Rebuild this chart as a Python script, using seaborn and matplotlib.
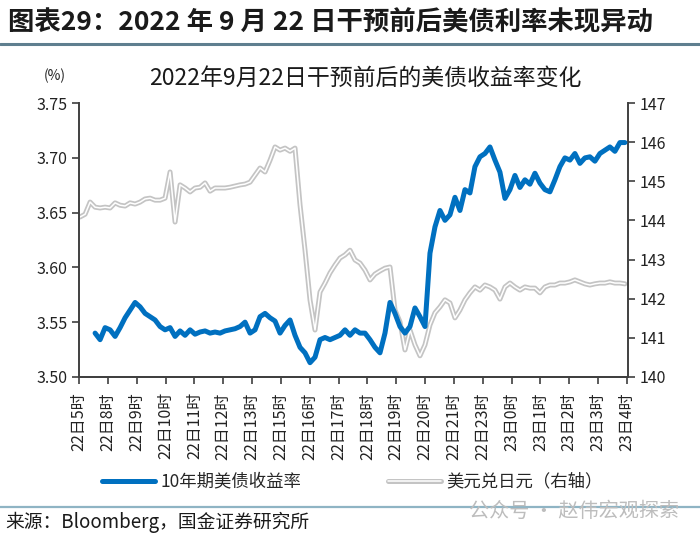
import matplotlib
matplotlib.use("Agg")
import matplotlib.pyplot as plt
import matplotlib.patheffects as pe
from matplotlib.lines import Line2D
import numpy as np
import pandas as pd
import seaborn as sns

# 10年期美债收益率 (%), 左轴; 前三个时点无数据
ust10y = [np.nan, np.nan, np.nan,
          3.540, 3.534, 3.545, 3.543, 3.537, 3.545, 3.554, 3.561, 3.568, 3.564,
          3.558, 3.555, 3.552, 3.546, 3.543, 3.545, 3.537, 3.542, 3.538, 3.543,
          3.539, 3.541, 3.542, 3.540, 3.541, 3.540, 3.542, 3.543, 3.544, 3.546,
          3.550, 3.540, 3.543, 3.555, 3.558, 3.554, 3.551, 3.540, 3.547, 3.552,
          3.538, 3.527, 3.522, 3.513, 3.518, 3.534, 3.536, 3.534, 3.536, 3.538,
          3.543, 3.538, 3.543, 3.540, 3.540, 3.534, 3.527, 3.522, 3.540, 3.568,
          3.558, 3.546, 3.540, 3.546, 3.563, 3.555, 3.546, 3.613, 3.637, 3.652,
          3.643, 3.648, 3.664, 3.652, 3.671, 3.668, 3.692, 3.701, 3.704, 3.710,
          3.698, 3.687, 3.663, 3.671, 3.684, 3.673, 3.680, 3.676, 3.686, 3.677,
          3.671, 3.669, 3.680, 3.692, 3.700, 3.698, 3.704, 3.695, 3.700, 3.701,
          3.697, 3.704, 3.707, 3.710, 3.706, 3.714, 3.714]

# 美元兑日元, 右轴
usdjpy = [144.09, 144.16, 144.47, 144.34, 144.32, 144.34, 144.32, 144.45, 144.39,
          144.37, 144.45, 144.42, 144.47, 144.55, 144.57, 144.52, 144.52, 144.57,
          145.24, 143.96, 144.91, 144.83, 144.73, 144.83, 144.85, 144.96, 144.75,
          144.83, 144.83, 144.83, 144.85, 144.88, 144.91, 144.93, 144.98, 145.16,
          145.34, 145.24, 145.54, 145.88, 145.80, 145.85, 145.77, 145.85, 144.40,
          143.24, 141.97, 141.20, 142.17, 142.40, 142.66, 142.86, 143.04, 143.12,
          143.24, 142.99, 142.91, 142.73, 142.48, 142.63, 142.71, 142.78, 142.81,
          141.71, 141.41, 140.69, 141.20, 140.82, 140.54, 140.82, 141.33, 141.64,
          141.79, 141.97, 141.89, 141.51, 141.71, 141.97, 142.15, 142.30, 142.22,
          142.35, 142.30, 142.22, 141.99, 142.30, 142.40, 142.30, 142.22, 142.30,
          142.27, 142.27, 142.15, 142.30, 142.35, 142.35, 142.40, 142.40, 142.43,
          142.48, 142.43, 142.38, 142.35, 142.38, 142.40, 142.40, 142.43, 142.40,
          142.40, 142.38]

tick_labels = ["22日5时", "22日8时", "22日9时", "22日10时", "22日11时", "22日12时",
               "22日13时", "22日15时", "22日16时", "22日17时", "22日18时", "22日19时",
               "22日20时", "22日21时", "22日23时", "23日0时", "23日1时", "23日2时",
               "23日3时", "23日4时"]

BLUE = "#0070c0"
GREY = "#c4c4c4"
DARK = "#404040"

sns.set_theme(style="white")
plt.rcParams["font.family"] = ["Noto Sans CJK SC", "DejaVu Sans"]
plt.rcParams["axes.unicode_minus"] = False

df = pd.DataFrame({"t": np.arange(len(usdjpy)), "ust": ust10y, "jpy": usdjpy})

fig = plt.figure(figsize=(7, 5.4), dpi=100)
ax = fig.add_axes([0.113, 0.302, 0.784, 0.507])
ax2 = ax.twinx()

# 灰色双线效果: 白线 + 灰色描边
sns.lineplot(data=df, x="t", y="jpy", ax=ax2, color="white", linewidth=1.1,
             path_effects=[pe.Stroke(linewidth=3.6, foreground=GREY), pe.Normal()])
sns.lineplot(data=df, x="t", y="ust", ax=ax, color=BLUE, linewidth=3.6)
ax.set_zorder(ax2.get_zorder() + 1)
ax.patch.set_visible(False)

n = len(df)
ax.set_xlim(-0.2, n - 0.4)
ax.set_ylim(3.50, 3.75)
ax2.set_ylim(140, 147)
ax.set_yticks([3.50, 3.55, 3.60, 3.65, 3.70, 3.75])
ax.set_yticklabels([f"{v:.2f}" for v in [3.50, 3.55, 3.60, 3.65, 3.70, 3.75]])
ax2.set_yticks(range(140, 148))
ax.set_xticks(np.linspace(-0.2, n - 0.6, len(tick_labels)))
ax.set_xticklabels(tick_labels, rotation=90)
ax.set_xlabel("")
ax.set_ylabel("")
ax2.set_ylabel("")

for a in (ax, ax2):
    a.spines["top"].set_visible(False)
    for s in ("left", "right", "bottom"):
        a.spines[s].set_color(DARK)
        a.spines[s].set_linewidth(1.4)
    a.tick_params(direction="out", length=5, width=1.2, color=DARK,
                  labelsize=11.5, labelcolor="#222222")
ax.tick_params(axis="y", left=True, right=False)
ax.tick_params(axis="x", bottom=True, labelsize=11.5, pad=6)
ax2.tick_params(axis="y", right=True, left=False)
ax2.spines["left"].set_visible(False)
ax.spines["right"].set_visible(False)

# 标题与注释
fig.text(0.012, 0.958, "图表29：2022 年 9 月 22 日干预前后美债利率未现异动",
         fontsize=19, fontweight="bold", color="#1a1a1a", va="center", ha="left")
fig.add_artist(Line2D([0, 1], [0.918, 0.918], color="#5f7f8f", linewidth=2.2))
fig.text(0.522, 0.855, "2022年9月22日干预前后的美债收益率变化",
         fontsize=16.5, color="#1a1a1a", ha="center", va="center")
fig.text(0.078, 0.86, "(%)", fontsize=10, color="#222222", ha="center", va="center")

# 图例
h1 = Line2D([], [], color=BLUE, linewidth=3.6)
h2 = Line2D([], [], color="white", linewidth=1.1,
            path_effects=[pe.Stroke(linewidth=3.6, foreground=GREY), pe.Normal()])
fig.legend([h1, h2], ["10年期美债收益率", "美元兑日元（右轴）"],
           loc="center", bbox_to_anchor=(0.503, 0.108), ncol=2, frameon=False,
           fontsize=12.5, handlelength=3.05, handletextpad=0.3, columnspacing=5.0)

fig.add_artist(Line2D([0, 1], [0.062, 0.062], color="#8fb4c4", linewidth=1.6))
fig.text(0.008, 0.033, "来源：Bloomberg，国金证券研究所", fontsize=13.5,
         color="#1a1a1a", ha="left", va="center")
fig.text(0.97, 0.052, "公众号 · 赵伟宏观探索", fontsize=14.5, color="#bdbdbd",
         ha="right", va="center")

fig.savefig("out.png", dpi=100)
